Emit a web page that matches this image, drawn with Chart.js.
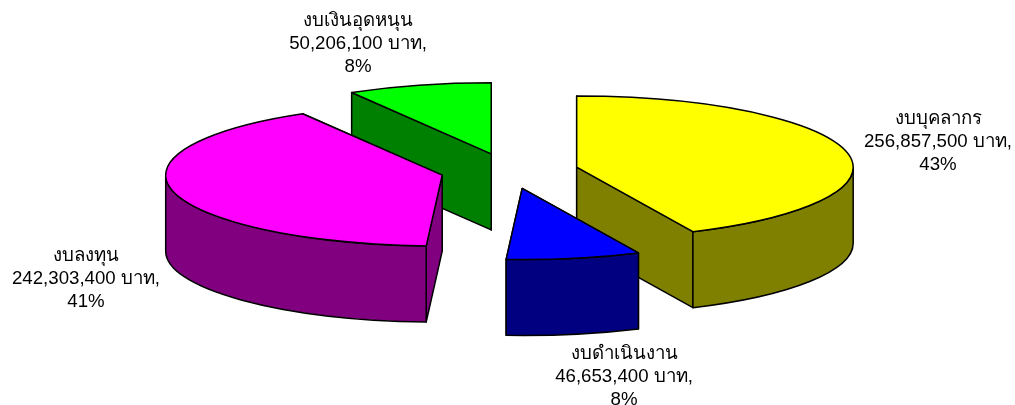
<!DOCTYPE html>
<html>
<head>
<meta charset="utf-8">
<style>
  html, body { margin: 0; padding: 0; background: #fff; }
  canvas { display: block; }
</style>
<script src="https://cdn.jsdelivr.net/npm/chart.js@4"></script>
</head>
<body>
<canvas id="pie-chart" width="1015" height="405"></canvas>
<script>
// data
var categories = ["งบบุคลากร", "งบดำเนินงาน", "งบลงทุน", "งบเงินอุดหนุน"];
var amounts = [256857500, 46653400, 242303400, 50206100];
var unit = "บาท";

// look of the 3d pie
var topColors = ["#ffff00", "#0000ff", "#ff00ff", "#00ff00"];
var sideColors = ["#808000", "#000080", "#800080", "#008000"];
var drawOrder = [3, 0, 2, 1];
var labelPos = [[938, 119], [624, 354], [86, 256], [358, 21]];
var tilt = 0.257;
var depth = 76;
var explode = 69;
var lineHeight = 23;

function sliceCenter(arc) {
  var mid = (arc.startAngle + arc.endAngle) / 2;
  return {
    x: arc.x + Math.cos(mid) * explode,
    y: arc.y + Math.sin(mid) * explode * tilt
  };
}

function outline(ctx, color) {
  ctx.fillStyle = color;
  ctx.fill();
  ctx.stroke();
}

function cutFace(ctx, c, r, angle, color) {
  var ex = c.x + Math.cos(angle) * r;
  var ey = c.y + Math.sin(angle) * r * tilt;
  ctx.beginPath();
  ctx.moveTo(c.x, c.y);
  ctx.lineTo(ex, ey);
  ctx.lineTo(ex, ey + depth);
  ctx.lineTo(c.x, c.y + depth);
  ctx.closePath();
  outline(ctx, color);
}

function outerWall(ctx, c, r, a0, a1, color) {
  // only the part of the rim that faces the viewer
  var from = Math.max(a0, 0);
  var to = Math.min(a1, Math.PI);
  if (to <= from) return;
  ctx.beginPath();
  ctx.ellipse(c.x, c.y, r, r * tilt, 0, from, to);
  ctx.ellipse(c.x, c.y + depth, r, r * tilt, 0, to, from, true);
  ctx.closePath();
  outline(ctx, color);
}

var pie3d = {
  id: "pie3d",
  beforeDatasetsDraw: function(chart) {
    var ctx = chart.ctx;
    var arcs = chart.getDatasetMeta(0).data;
    ctx.save();
    ctx.lineWidth = 1.5;
    ctx.strokeStyle = "#000";
    ctx.lineJoin = "round";
    drawOrder.forEach(function(i) {
      var arc = arcs[i];
      var c = sliceCenter(arc);
      var r = arc.outerRadius;
      // the cut face further back goes first
      var faces = [arc.startAngle, arc.endAngle].sort(function(a, b) {
        return Math.sin(a) - Math.sin(b);
      });
      cutFace(ctx, c, r, faces[0], sideColors[i]);
      cutFace(ctx, c, r, faces[1], sideColors[i]);
      outerWall(ctx, c, r, arc.startAngle, arc.endAngle, sideColors[i]);

      // top face is the library's own arc, flattened
      ctx.save();
      ctx.translate(c.x, c.y);
      ctx.scale(1, tilt);
      ctx.translate(-arc.x, -arc.y);
      arc.draw(ctx);
      ctx.restore();

      ctx.beginPath();
      ctx.moveTo(c.x, c.y);
      ctx.ellipse(c.x, c.y, r, r * tilt, 0, arc.startAngle, arc.endAngle);
      ctx.closePath();
      ctx.stroke();
    });
    ctx.restore();
    return false;
  },
  afterDraw: function(chart) {
    var ctx = chart.ctx;
    var total = amounts.reduce(function(a, b) { return a + b; }, 0);
    ctx.save();
    ctx.fillStyle = "#000";
    ctx.font = '18.67px "Liberation Sans", "Noto Sans", sans-serif';
    ctx.textAlign = "center";
    ctx.textBaseline = "middle";
    categories.forEach(function(name, i) {
      var lines = [
        name,
        amounts[i].toLocaleString("en-US") + " " + unit + ",",
        Math.round(amounts[i] / total * 100) + "%"
      ];
      lines.forEach(function(t, n) {
        ctx.fillText(t, labelPos[i][0], labelPos[i][1] + n * lineHeight);
      });
    });
    ctx.restore();
  }
};

new Chart(document.getElementById("pie-chart"), {
  type: "pie",
  data: {
    labels: categories,
    datasets: [{
      data: amounts,
      backgroundColor: topColors,
      borderWidth: 0
    }]
  },
  options: {
    responsive: false,
    animation: false,
    radius: 276.5,
    layout: { padding: { left: 3.6, bottom: 63 } },
    plugins: {
      legend: { display: false },
      tooltip: { enabled: false }
    }
  },
  plugins: [pie3d]
});
</script>
</body>
</html>
